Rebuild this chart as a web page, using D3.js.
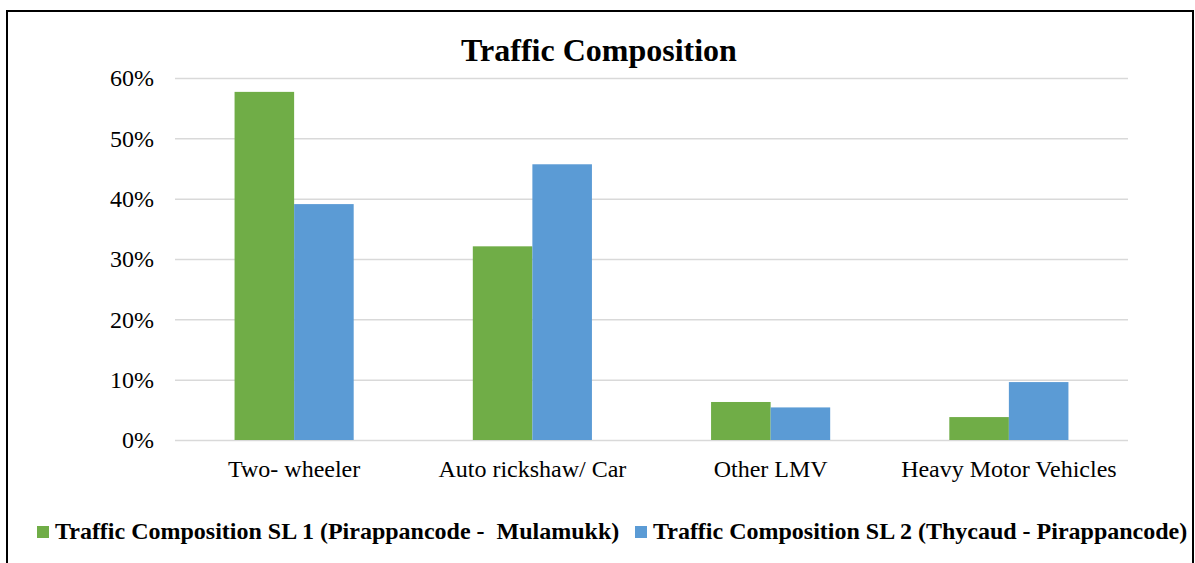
<!DOCTYPE html>
<html>
<head>
<meta charset="utf-8">
<script src="https://cdn.jsdelivr.net/npm/d3@7"></script>
<style>
    html, body { margin: 0; padding: 0; background: #fff; }
    svg { display: block; }
    text { font-family: "Liberation Serif", "Times New Roman", serif; fill: #000; }
</style>
</head>
<body>
<svg id="chart" width="1195" height="563"></svg>
<script>
// chart data
const categories = ["Two- wheeler", "Auto rickshaw/ Car", "Other LMV", "Heavy Motor Vehicles"];
const seriesNames = [
    "Traffic Composition SL 1 (Pirappancode -  Mulamukk)",
    "Traffic Composition SL 2 (Thycaud - Pirappancode)"
];
const sl1Values = [0.577, 0.321, 0.063, 0.038];
const sl2Values = [0.391, 0.457, 0.054, 0.096];
const yTicks = [0, 0.1, 0.2, 0.3, 0.4, 0.5, 0.6];
const colors = ["#70AD47", "#5B9BD5"];

const svg = d3.select("#chart");

// 绘图区边界
const plot = {left: 175, right: 1128, top: 78, bottom: 440};

// outer frame
svg.append("rect")
    .attr("x", 7).attr("y", 11)
    .attr("width", 1186).attr("height", 570)
    .attr("fill", "#fff")
    .attr("stroke", "#000")
    .attr("stroke-width", 2);

// title
svg.append("text")
    .attr("x", 599).attr("y", 61)
    .attr("text-anchor", "middle")
    .style("font-size", "32px")
    .style("font-weight", "bold")
    .text("Traffic Composition");

// scales
const scaleX = d3.scaleBand().domain(categories).range([plot.left, plot.right]);
const scaleInner = d3.scaleBand().domain(d3.range(seriesNames.length))
    .range([0, scaleX.bandwidth()]).paddingOuter(1);
const scaleY = d3.scaleLinear().domain([0, 0.6]).range([plot.bottom, plot.top]);

// y axis + gridlines
const axisY = d3.axisLeft(scaleY)
    .tickValues(yTicks)
    .tickFormat(d3.format(".0%"))
    .tickSize(-(plot.right - plot.left))
    .tickPadding(21);

const axisYG = svg.append("g")
    .attr("transform", `translate(${plot.left},0)`)
    .call(axisY);
axisYG.select(".domain").remove();
axisYG.selectAll(".tick line").attr("stroke", "#d9d9d9").attr("stroke-width", 1.5);
axisYG.selectAll(".tick text")
    .style("font-size", "24px");

// bars
const rows = categories.map((c, i) => ({cat: c, vals: [sl1Values[i], sl2Values[i]]}));
const groups = svg.append("g").selectAll("g")
    .data(rows).join("g")
    .attr("transform", d => `translate(${scaleX(d.cat)},0)`);

groups.selectAll("rect")
    .data(d => d.vals.map((v, s) => ({v, s})))
    .join("rect")
    .attr("x", d => scaleInner(d.s))
    .attr("y", d => scaleY(d.v))
    .attr("width", scaleInner.bandwidth())
    .attr("height", d => scaleY(0) - scaleY(d.v))
    .attr("fill", d => colors[d.s]);

// x axis labels
const axisX = d3.axisBottom(scaleX).tickSize(0).tickPadding(20);
const axisXG = svg.append("g")
    .attr("transform", `translate(0,${plot.bottom})`)
    .call(axisX);
axisXG.select(".domain").remove();
axisXG.selectAll(".tick text")
    .style("font-size", "24px");

// legend
const legendX = [37, 635];
const legend = svg.append("g").selectAll("g")
    .data(seriesNames).join("g")
    .attr("transform", (d, i) => `translate(${legendX[i]},526)`);

legend.append("rect")
    .attr("width", 12).attr("height", 12)
    .attr("fill", (d, i) => colors[i]);

legend.append("text")
    .attr("x", 18).attr("y", 13)
    .style("font-size", "24px")
    .style("font-weight", "bold")
    .style("white-space", "pre")
    .attr("xml:space", "preserve")
    .text(d => d);
</script>
</body>
</html>
